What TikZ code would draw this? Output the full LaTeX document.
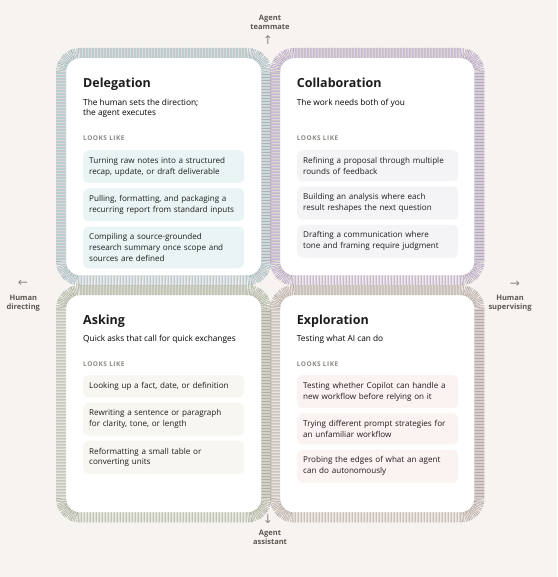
\documentclass[tikz,border=0pt]{standalone}
\usepackage{fontspec}
\setmainfont{Open Sans}
\newfontfamily\arrowfont{DejaVu Sans}
\newfontfamily\capsfont[LetterSpace=8]{Open Sans}
\usetikzlibrary{positioning}

\definecolor{paper}{HTML}{F6F3F0}
\definecolor{ink}{HTML}{1C1C1C}
\definecolor{axisink}{HTML}{5E5650}
\definecolor{arrowgrey}{HTML}{8E8781}
\definecolor{looksgrey}{HTML}{8C8884}
% item fills
\definecolor{delegfill}{HTML}{EAF4F5}
\definecolor{collabfill}{HTML}{F4F4F6}
\definecolor{askfill}{HTML}{F8F6F0}
\definecolor{explofill}{HTML}{FBF3F1}
% fringe tints
\definecolor{delegline}{HTML}{B3D2D9}
\definecolor{collabline}{HTML}{CDB0DD}
\definecolor{askline}{HTML}{BAC7A8}
\definecolor{exploline}{HTML}{D2BCB5}
\definecolor{delegrey}{HTML}{AEB3B5}
\definecolor{collabgrey}{HTML}{B3AEB5}
\definecolor{askgrey}{HTML}{B0B0A8}
\definecolor{explogrey}{HTML}{B3ADA9}

\tikzset{
  card/.style={fill=white, rounded corners=14pt, inner sep=0pt, anchor=north west},
  cardtitle/.style={anchor=base west, inner sep=0pt, text=ink, font=\bfseries\fontsize{12.5}{14}\selectfont},
  cardsub/.style={anchor=base west, inner sep=0pt, align=left, text=black, font=\fontsize{8.3}{10}\selectfont},
  looks/.style={anchor=base west, inner sep=0pt, text=looksgrey, font=\capsfont\bfseries\fontsize{6.5}{7}\selectfont},
  item/.style={rounded corners=5pt, text width=149pt, inner xsep=6pt, inner ysep=7pt, align=left,
    text=ink, font=\fontsize{8.1}{10.7}\selectfont},
  axislabel/.style={align=center, inner sep=0pt, text=axisink, font=\bfseries\fontsize{7.5}{8.6}\selectfont},
  axisarrow/.style={inner sep=0pt, text=arrowgrey, font=\arrowfont\fontsize{12}{13}\selectfont},
}

% band of ticks around a card: node, grey, tint
\newcommand{\fringe}[3]{%
  \draw[line width=10pt, draw=#2, dash pattern=on 0.6pt off 0.9pt, rounded corners=19pt]
    ([shift={(-5,-5)}]#1.north west) rectangle ([shift={(5,5)}]#1.south east);
  \draw[line width=10pt, draw=#3, dash pattern=on 0.6pt off 2.4pt, dash phase=1.5pt, rounded corners=19pt]
    ([shift={(-5,-5)}]#1.north west) rectangle ([shift={(5,5)}]#1.south east);
}

\begin{document}
\begin{tikzpicture}[x=1pt, y=-1pt, node distance=5pt]
  \fill[paper] (0,0) rectangle (557,577);
  \useasboundingbox (0,0) rectangle (557,577);

  % cards
  \node[card, minimum width=195pt, minimum height=217pt] (deleg) at (66,58) {};
  \node[card, minimum width=194pt, minimum height=217pt] (collab) at (280,58) {};
  \node[card, minimum width=195pt, minimum height=217pt] (ask) at (66,295) {};
  \node[card, minimum width=194pt, minimum height=217pt] (explo) at (280,295) {};
  \fringe{deleg}{delegrey}{delegline}
  \fringe{collab}{collabgrey}{collabline}
  \fringe{ask}{askgrey}{askline}
  \fringe{explo}{explogrey}{exploline}

  % Delegation
  \node[cardtitle] (delegtitle) at (83,87.3) {Delegation};
  \node[cardsub] (delegsub) at (83,115.7) {The human sets the direction;\\the agent executes};
  \node[looks] (deleglooks) at (83,141) {LOOKS LIKE};
  \node[item, fill=delegfill, anchor=north west] (deleg1) at (83,150)
    {Turning raw notes into a structured\\recap, update, or draft deliverable};
  \node[item, fill=delegfill, below=of deleg1] (deleg2)
    {Pulling, formatting, and packaging a\\recurring report from standard inputs};
  \node[item, fill=delegfill, below=of deleg2] (deleg3)
    {Compiling a source-grounded\\research summary once scope and\\sources are defined};

  % Collaboration
  \node[cardtitle] (collabtitle) at (296.7,87.3) {Collaboration};
  \node[cardsub] (collabsub) at (296.7,105.7) {The work needs both of you};
  \node[looks] (collablooks) at (296.7,141) {LOOKS LIKE};
  \node[item, fill=collabfill, anchor=north west] (collab1) at (297,150)
    {Refining a proposal through multiple\\rounds of feedback};
  \node[item, fill=collabfill, below=of collab1] (collab2)
    {Building an analysis where each\\result reshapes the next question};
  \node[item, fill=collabfill, below=of collab2] (collab3)
    {Drafting a communication where\\tone and framing require judgment};

  % Asking
  \node[cardtitle] (asktitle) at (83,324) {Asking};
  \node[cardsub] (asksub) at (83,341.7) {Quick asks that call for quick exchanges};
  \node[looks] (asklooks) at (83,366.3) {LOOKS LIKE};
  \node[item, fill=askfill, anchor=north west] (ask1) at (83,375)
    {Looking up a fact, date, or definition};
  \node[item, fill=askfill, below=of ask1] (ask2)
    {Rewriting a sentence or paragraph\\for clarity, tone, or length};
  \node[item, fill=askfill, below=of ask2] (ask3)
    {Reformatting a small table or\\converting units};

  % Exploration
  \node[cardtitle] (explotitle) at (296.7,324) {Exploration};
  \node[cardsub] (explosub) at (296.7,341.7) {Testing what AI can do};
  \node[looks] (explolooks) at (296.7,366.3) {LOOKS LIKE};
  \node[item, fill=explofill, anchor=north west] (explo1) at (297,375)
    {Testing whether Copilot can handle a\\new workflow before relying on it};
  \node[item, fill=explofill, below=of explo1] (explo2)
    {Trying different prompt strategies for\\an unfamiliar workflow};
  \node[item, fill=explofill, below=of explo2] (explo3)
    {Probing the edges of what an agent\\can do autonomously};

  % axis labels
  \node[axislabel, anchor=base] (teammate) at (270,29.3) {Agent\\teammate};
  \node[axisarrow] (uparrow) at (268,40.5) {↑};
  \node[axisarrow] (leftarrow) at (23,283.5) {←};
  \node[axislabel, anchor=base] (directing) at (23.3,309.5) {Human\\directing};
  \node[axisarrow] (rightarrow) at (515,284) {→};
  \node[axislabel, anchor=base] (supervising) at (510,309.3) {Human\\supervising};
  \node[axisarrow] (downarrow) at (268,519.5) {↓};
  \node[axislabel, anchor=base] (assistant) at (270,544.3) {Agent\\assistant};
\end{tikzpicture}
\end{document}
